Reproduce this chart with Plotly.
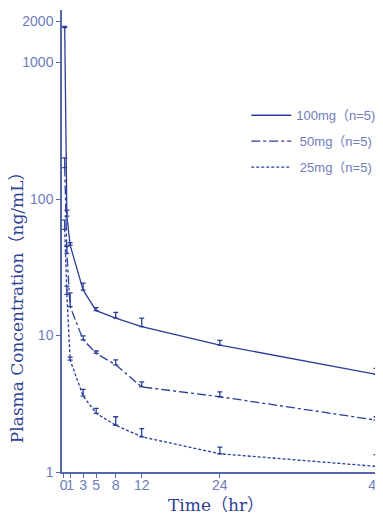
import plotly.graph_objects as go

# ---- data ----
time_h = [0.167, 0.5, 1, 3, 5, 8, 12, 24, 48]
conc_100mg = [1800, 75, 46, 21.5, 15.2, 13.4, 11.6, 8.5, 5.2]
sd_100mg = [40, 8, 2.0, 2.7, 0.8, 1.4, 1.8, 0.7, 0.55]
conc_50mg = [170, 40, 16.3, 9.3, 7.4, 6.1, 4.2, 3.56, 2.4]
sd_50mg = [30, 5, 4.2, 0.65, 0.3, 0.54, 0.38, 0.31, 0.14]
conc_25mg = [60, 20, 6.6, 3.6, 2.69, 2.2, 1.81, 1.36, 1.1]
sd_25mg = [10, 3, 0.35, 0.43, 0.24, 0.34, 0.27, 0.16, 0.24]
series_names = ["100mg（n=5)", " 50mg（n=5)", " 25mg（n=5)"]
x_ticks = [0, 1, 3, 5, 8, 12, 24, 48]
y_ticks = [1, 10, 100, 1000, 2000]

LINE = "#2b3d98"
AXIS = "#5666ad"
TICK = "#6f7cbb"
TITLE = "#2f3f94"

fig = go.Figure()
dashes = ["solid", "dashdot", "3px,2px"]
for i, (name, y, sd) in enumerate(zip(series_names,
                                      [conc_100mg, conc_50mg, conc_25mg],
                                      [sd_100mg, sd_50mg, sd_25mg])):
    fig.add_trace(go.Scatter(
        x=time_h, y=y, name=name, mode="lines",
        legendgroup=f"g{i}",
        line=dict(color=LINE, width=1.3, dash=dashes[i]),
        error_y=dict(type="data", array=sd, arrayminus=[0]*len(sd),
                     symmetric=False, color=LINE, thickness=1.3, width=2.5),
    ))

fig.update_layout(
    width=375, height=507,
    margin=dict(l=54, r=5, t=2, b=43, autoexpand=False),
    paper_bgcolor="white", plot_bgcolor="white",
    showlegend=True,
    legend=dict(x=0.583, y=0.8045, xanchor="left", yanchor="top",
                bgcolor="rgba(0,0,0,0)", tracegroupgap=6, itemwidth=40,
                font=dict(family="Liberation Sans, Noto Sans CJK SC", size=13, color=TICK)),
    xaxis=dict(range=[-0.25, 48.3], tickmode="array", tickvals=x_ticks,
               ticktext=[str(v) for v in x_ticks], tickangle=0, automargin=False,
               ticklabeloverflow="allow", ticklabelstandoff=-5,
               showgrid=False, zeroline=False, showline=True,
               linecolor=AXIS, linewidth=1.5, ticks="outside", ticklen=4,
               tickcolor=AXIS, tickwidth=1.2,
               tickfont=dict(family="Liberation Sans", size=14, color=TICK)),
    yaxis=dict(type="log", range=[0, 3.385], tickmode="array", tickvals=y_ticks,
               ticktext=[str(v) for v in y_ticks], automargin=False,
               showgrid=False, zeroline=False, showline=True,
               linecolor=AXIS, linewidth=1.5, ticks="outside", ticklen=4,
               tickcolor=AXIS, tickwidth=1.2,
               tickfont=dict(family="Liberation Sans", size=14, color=TICK)),
    annotations=[
        dict(text="Plasma Concentration（ng/mL）", textangle=-90,
             xref="paper", yref="paper", x=-0.14, y=0.365,
             xanchor="center", yanchor="middle", showarrow=False,
             font=dict(family="DejaVu Serif, Noto Sans CJK SC", size=17, color=TITLE)),
        dict(text="Time（hr）", xref="paper", yref="paper",
             x=0.487, y=-0.072, xanchor="center", yanchor="middle", showarrow=False,
             font=dict(family="DejaVu Serif, Noto Sans CJK SC", size=17, color=TITLE)),
    ],
)

fig.write_html("out.html")
